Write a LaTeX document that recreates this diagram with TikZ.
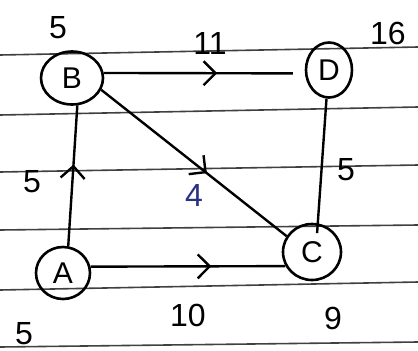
\documentclass[tikz,border=0pt]{standalone}
\usepackage{fontspec}
\setmainfont{Liberation Sans}
\usetikzlibrary{shapes.geometric,arrows.meta,decorations.markings}
\begin{document}
\begin{tikzpicture}[x=1pt,y=-1pt,
  vert/.style={draw=black,line width=2.6pt,ellipse,inner sep=0pt,font=\fontsize{30}{30}\selectfont},
  edge/.style={line width=2.4pt,black},
  midarrow/.style={postaction={decorate},decoration={markings,mark=at position #1 with {\arrow[line width=2.4pt]{Straight Barb[length=12pt,width=24pt]}}}},
  wt/.style={font=\fontsize{32}{32}\selectfont,inner sep=0pt},
  rule/.style={line width=1.6pt,black!75}]
\useasboundingbox (0,0) rectangle (418,351);
\fill[white] (0,0) rectangle (418,351);
% ruled lines
\draw[rule] (0,55) -- (418,47);
\draw[rule] (0,115) -- (418,107);
\draw[rule] (0,172) -- (418,165);
\draw[rule] (0,230) -- (418,225);
\draw[rule] (0,290) -- (418,282);
\draw[rule] (0,347) -- (418,342);
% nodes
\node[vert,minimum width=62pt,minimum height=53pt] (B) at (72,78) {B};
\node[vert,minimum width=46pt,minimum height=55pt] (D) at (329,70) {D};
\node[vert,minimum width=54pt,minimum height=52pt] (A) at (63,273) {A};
\node[vert,minimum width=58pt,minimum height=56pt] (C) at (312,252) {C};
% edges
\draw[edge,midarrow=0.6] (B.9) -- ([xshift=-12pt]D.188);
\draw[edge,midarrow=0.58] (A.79) -- (B.281);
\draw[edge,midarrow=0.57] (B.338) -- (C.148);
\draw[edge,midarrow=0.62] (A.13) -- (C.208);
\draw[edge] (D.265) -- ([yshift=-10pt]C.80);
% labels
\node[wt] (lB) at (58,28) {5};
\node[wt] (lBD) at (210,43) {11};
\node[wt] (lD) at (388,33) {16};
\node[wt] (lAB) at (32,182) {5};
\node[wt,text={rgb,255:red,40;green,50;blue,130}] (lBC) at (194,195) {4};
\node[wt] (lDC) at (346,170) {5};
\node[wt] (lA) at (24,334) {5};
\node[wt] (lAC) at (188,315) {10};
\node[wt] (lC) at (333,318) {9};
\end{tikzpicture}
\end{document}
